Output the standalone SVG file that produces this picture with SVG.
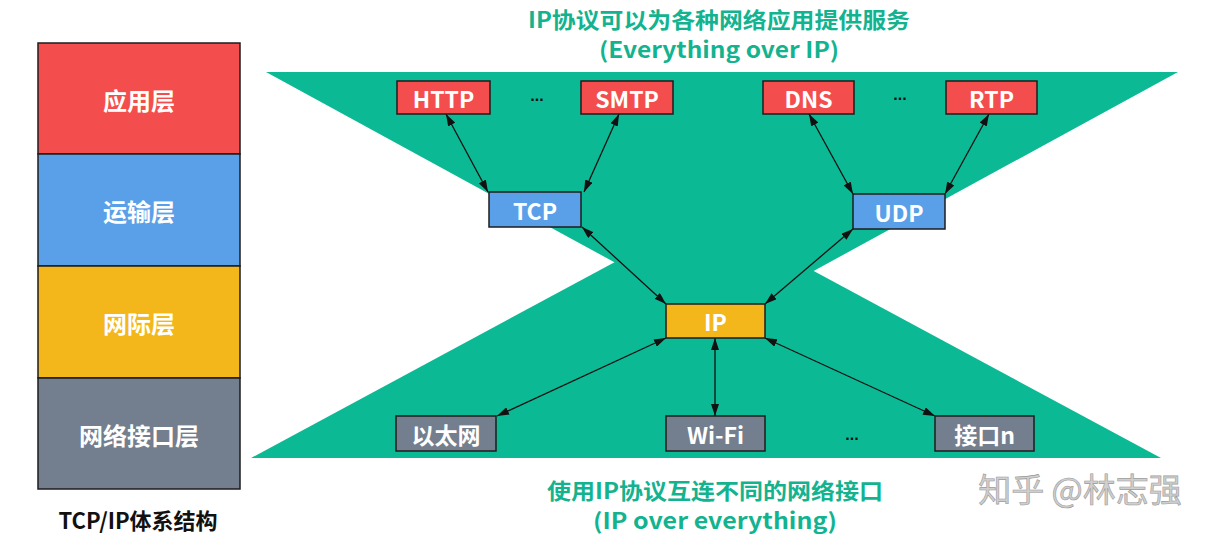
<svg xmlns="http://www.w3.org/2000/svg" width="1225" height="539" viewBox="0 0 1225 539">
<style>
.t{font-family:"Noto Sans CJK SC","Liberation Sans",sans-serif;font-weight:bold;text-anchor:middle;dominant-baseline:central}
.w{fill:#ffffff}
.g{fill:#13b38f}
.box{stroke:#1c1c1c;stroke-width:1.5}
.red{fill:#f44d4d}.blue{fill:#5aa0e8}.yel{fill:#f3b71b}.gray{fill:#737e8e}
.dots{font-family:"Liberation Sans",sans-serif;font-weight:bold;font-size:16px;fill:#111;text-anchor:middle}
.con{stroke:#111;stroke-width:1.3;fill:none;marker-start:url(#ah);marker-end:url(#ah)}
</style>
<defs>
<marker id="ah" viewBox="0 0 12 8" refX="12" refY="4" markerWidth="12" markerHeight="8" markerUnits="userSpaceOnUse" orient="auto-start-reverse">
<path d="M0,0 L12,4 L0,8 z" fill="#111"/>
</marker>
</defs>
<rect width="1225" height="539" fill="#ffffff"/>

<g id="bowtie" fill="#0cb995">
<polygon points="266,72 1178,72 722,321"/>
<polygon points="251,458 1161,458 706,213"/>
</g>

<g id="stack">
<g id="layer-app"><rect class="box red" x="38" y="43" width="202" height="111"/><text class="t w" x="139" y="99" font-size="24">应用层</text></g>
<g id="layer-transport"><rect class="box blue" x="38" y="154" width="202" height="112"/><text class="t w" x="139" y="210" font-size="24">运输层</text></g>
<g id="layer-internet"><rect class="box yel" x="38" y="266" width="202" height="112"/><text class="t w" x="139" y="322" font-size="24">网际层</text></g>
<g id="layer-link"><rect class="box gray" x="38" y="378" width="202" height="111"/><text class="t w" x="139" y="434" font-size="24">网络接口层</text></g>
<text class="t" x="138" y="519" font-size="22" fill="#111">TCP/IP体系结构</text>
</g>

<g id="titles">
<text class="t g" x="719" y="18" font-size="22" textLength="382" lengthAdjust="spacingAndGlyphs">IP协议可以为各种网络应用提供服务</text>
<text class="t g" x="719" y="48" font-size="22" textLength="240" lengthAdjust="spacingAndGlyphs">(Everything over IP)</text>
<text class="t g" x="715" y="489" font-size="22" textLength="336" lengthAdjust="spacingAndGlyphs">使用IP协议互连不同的网络接口</text>
<text class="t g" x="715" y="519" font-size="22" textLength="244" lengthAdjust="spacingAndGlyphs">(IP over everything)</text>
</g>

<g id="connectors">
<path class="con" d="M446,114 L488,192"/>
<path class="con" d="M619,114 L584,192"/>
<path class="con" d="M809,114 L853,194"/>
<path class="con" d="M989,114 L945,194"/>
<path class="con" d="M582,227 L666,304"/>
<path class="con" d="M853,229 L765,304"/>
<path class="con" d="M666,338 L497,416"/>
<path class="con" d="M715,338 L715,416"/>
<path class="con" d="M765,338 L935,416"/>
</g>

<g id="n-http"><rect class="box red" x="397" y="81" width="93" height="33"/><text class="t w" x="443.5" y="97.5" font-size="23">HTTP</text></g>
<text class="dots" x="537" y="101">...</text>
<g id="n-smtp"><rect class="box red" x="581" y="81" width="92" height="33"/><text class="t w" x="627" y="97.5" font-size="23">SMTP</text></g>
<g id="n-dns"><rect class="box red" x="763" y="81" width="91" height="33"/><text class="t w" x="808.5" y="97.5" font-size="23">DNS</text></g>
<text class="dots" x="900" y="100">...</text>
<g id="n-rtp"><rect class="box red" x="946" y="81" width="91" height="33"/><text class="t w" x="991.5" y="97.5" font-size="23">RTP</text></g>
<g id="n-tcp"><rect class="box blue" x="489" y="192" width="92" height="35"/><text class="t w" x="535" y="209.5" font-size="23">TCP</text></g>
<g id="n-udp"><rect class="box blue" x="853" y="194" width="92" height="35"/><text class="t w" x="899" y="211.5" font-size="23">UDP</text></g>
<g id="n-ip"><rect class="box yel" x="666" y="304" width="99" height="34"/><text class="t w" x="715.5" y="321" font-size="23">IP</text></g>
<g id="n-eth"><rect class="box gray" x="396" y="416" width="100" height="35"/><text class="t w" x="446" y="433.5" font-size="23">以太网</text></g>
<g id="n-wifi"><rect class="box gray" x="666" y="416" width="99" height="35"/><text class="t w" x="715.5" y="433.5" font-size="23">Wi-Fi</text></g>
<text class="dots" x="852" y="440">...</text>
<g id="n-ifn"><rect class="box gray" x="935" y="416" width="99" height="35"/><text class="t w" x="984.5" y="433.5" font-size="23">接口n</text></g>

<text x="1080" y="502" font-family="'Noto Sans CJK SC',sans-serif" font-size="33" fill="#cfcfcf" stroke="#9a9a9a" stroke-width="0.6" text-anchor="middle">知乎 @林志强</text>
</svg>
